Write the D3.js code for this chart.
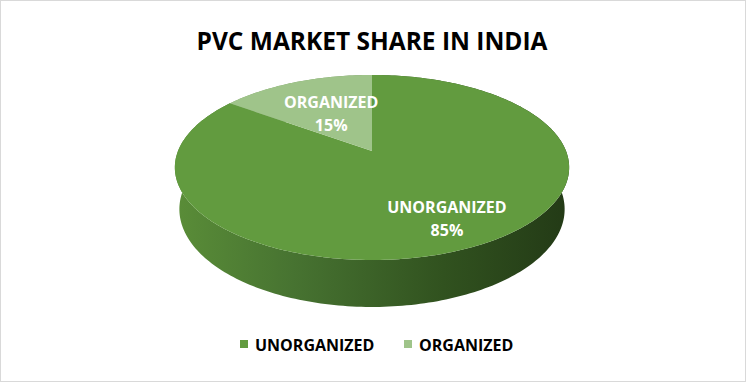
<!DOCTYPE html>
<html>
<head>
<meta charset="utf-8">
<script src="https://cdn.jsdelivr.net/npm/d3@7"></script>
<style>
  body { margin: 0; background: #fff; }
  text { font-family: "Open Sans", "DejaVu Sans", sans-serif; font-weight: bold; }
</style>
</head>
<body>
<svg id="chart" width="746" height="382"></svg>
<script>
// data
var categories = ["UNORGANIZED", "ORGANIZED"];
var shares = [85, 15];
var colors = ["#629b3f", "#9fc48a"];
var title = "PVC MARKET SHARE IN INDIA";

var W = 746, H = 382;
var svg = d3.select("#chart");

// chart border
svg.append("rect")
  .attr("x", 0.5).attr("y", 0.5)
  .attr("width", W - 1).attr("height", H - 1)
  .attr("fill", "#fff").attr("stroke", "#d9d9d9");

svg.append("text")
  .attr("x", 372).attr("y", 50)
  .attr("text-anchor", "middle")
  .attr("font-size", 24.5)
  .attr("fill", "#000")
  .text(title);

// perspective projection of the pie disk (radius 1)
var cx = 372, cy = 151, S = 194;
var phi = 27.5 * Math.PI / 180;
var RD = 0.2007;      // radius / camera distance
var thick = 0.245;    // pie height, in radius units

function proj(theta, r, h) {
  var u = r * Math.sin(theta);
  var w = -r * Math.cos(theta);
  var depth = 1 - (h * Math.sin(phi) + w * Math.cos(phi)) * RD;
  return [cx + S * u / depth, cy - S * (h * Math.cos(phi) - w * Math.sin(phi)) / depth];
}

var color = d3.scaleOrdinal().domain(categories).range(colors);

var pie = d3.pie().sort(null).startAngle(0).endAngle(2 * Math.PI);
var slices = pie(shares);
slices.forEach(function(d, i) { d.name = categories[i]; });

var line = d3.line();

function rim(a0, a1, h) {
  var n = Math.max(8, Math.ceil((a1 - a0) / 0.02));
  return d3.range(n + 1).map(function(k) {
    return proj(a0 + (a1 - a0) * k / n, 1, h);
  });
}

// side shading
var defs = svg.append("defs");
var grad = defs.append("linearGradient")
  .attr("id", "side0")
  .attr("gradientUnits", "userSpaceOnUse")
  .attr("x1", 175).attr("x2", 569).attr("y1", 0).attr("y2", 0);
[[0, "#5a8d38"], [0.3, "#477331"], [0.68, "#31521f"], [1, "#233a16"]].forEach(function(s) {
  grad.append("stop").attr("offset", s[0]).attr("stop-color", s[1]);
});
var grad2 = defs.append("linearGradient")
  .attr("id", "side1")
  .attr("gradientUnits", "userSpaceOnUse")
  .attr("x1", 175).attr("x2", 569).attr("y1", 0).attr("y2", 0);
[[0, "#86ad6f"], [1, "#5b7a49"]].forEach(function(s) {
  grad2.append("stop").attr("offset", s[0]).attr("stop-color", s[1]);
});

// outer walls
svg.selectAll("path.wall")
  .data(slices)
  .enter().append("path")
  .attr("class", "wall")
  .attr("d", function(d) {
    var top = rim(d.startAngle, d.endAngle, 0);
    var bot = rim(d.startAngle, d.endAngle, -thick).reverse();
    return line(top.concat(bot)) + "Z";
  })
  .attr("fill", function(d, i) { return "url(#side" + i + ")"; });

// top faces
svg.selectAll("path.top")
  .data(slices)
  .enter().append("path")
  .attr("class", "top")
  .attr("d", function(d) {
    var pts = [proj(0, 0, 0)].concat(rim(d.startAngle, d.endAngle, 0));
    return line(pts) + "Z";
  })
  .attr("fill", function(d) { return color(d.name); });

// data labels
var labelR = [0.75, 0.5];
var lab = svg.selectAll("g.lab")
  .data(slices)
  .enter().append("g")
  .attr("class", "lab")
  .attr("transform", function(d, i) {
    var p = proj((d.startAngle + d.endAngle) / 2, labelR[i], 0);
    return "translate(" + p[0] + "," + p[1] + ")";
  });
lab.append("text")
  .attr("text-anchor", "middle")
  .attr("y", -6)
  .attr("font-size", 16)
  .attr("fill", "#fff")
  .text(function(d) { return d.name; });
lab.append("text")
  .attr("text-anchor", "middle")
  .attr("y", 17)
  .attr("font-size", 16)
  .attr("fill", "#fff")
  .text(function(d) { return d.data + "%"; });

// legend
var legX = [240, 404];
var leg = svg.selectAll("g.leg")
  .data(categories)
  .enter().append("g")
  .attr("class", "leg")
  .attr("transform", function(d, i) { return "translate(" + legX[i] + ",340)"; });
leg.append("rect")
  .attr("width", 8).attr("height", 8)
  .attr("fill", function(d) { return color(d); });
leg.append("text")
  .attr("x", 15).attr("y", 11)
  .attr("font-size", 16)
  .attr("fill", "#000")
  .text(function(d) { return d; });
</script>
</body>
</html>
